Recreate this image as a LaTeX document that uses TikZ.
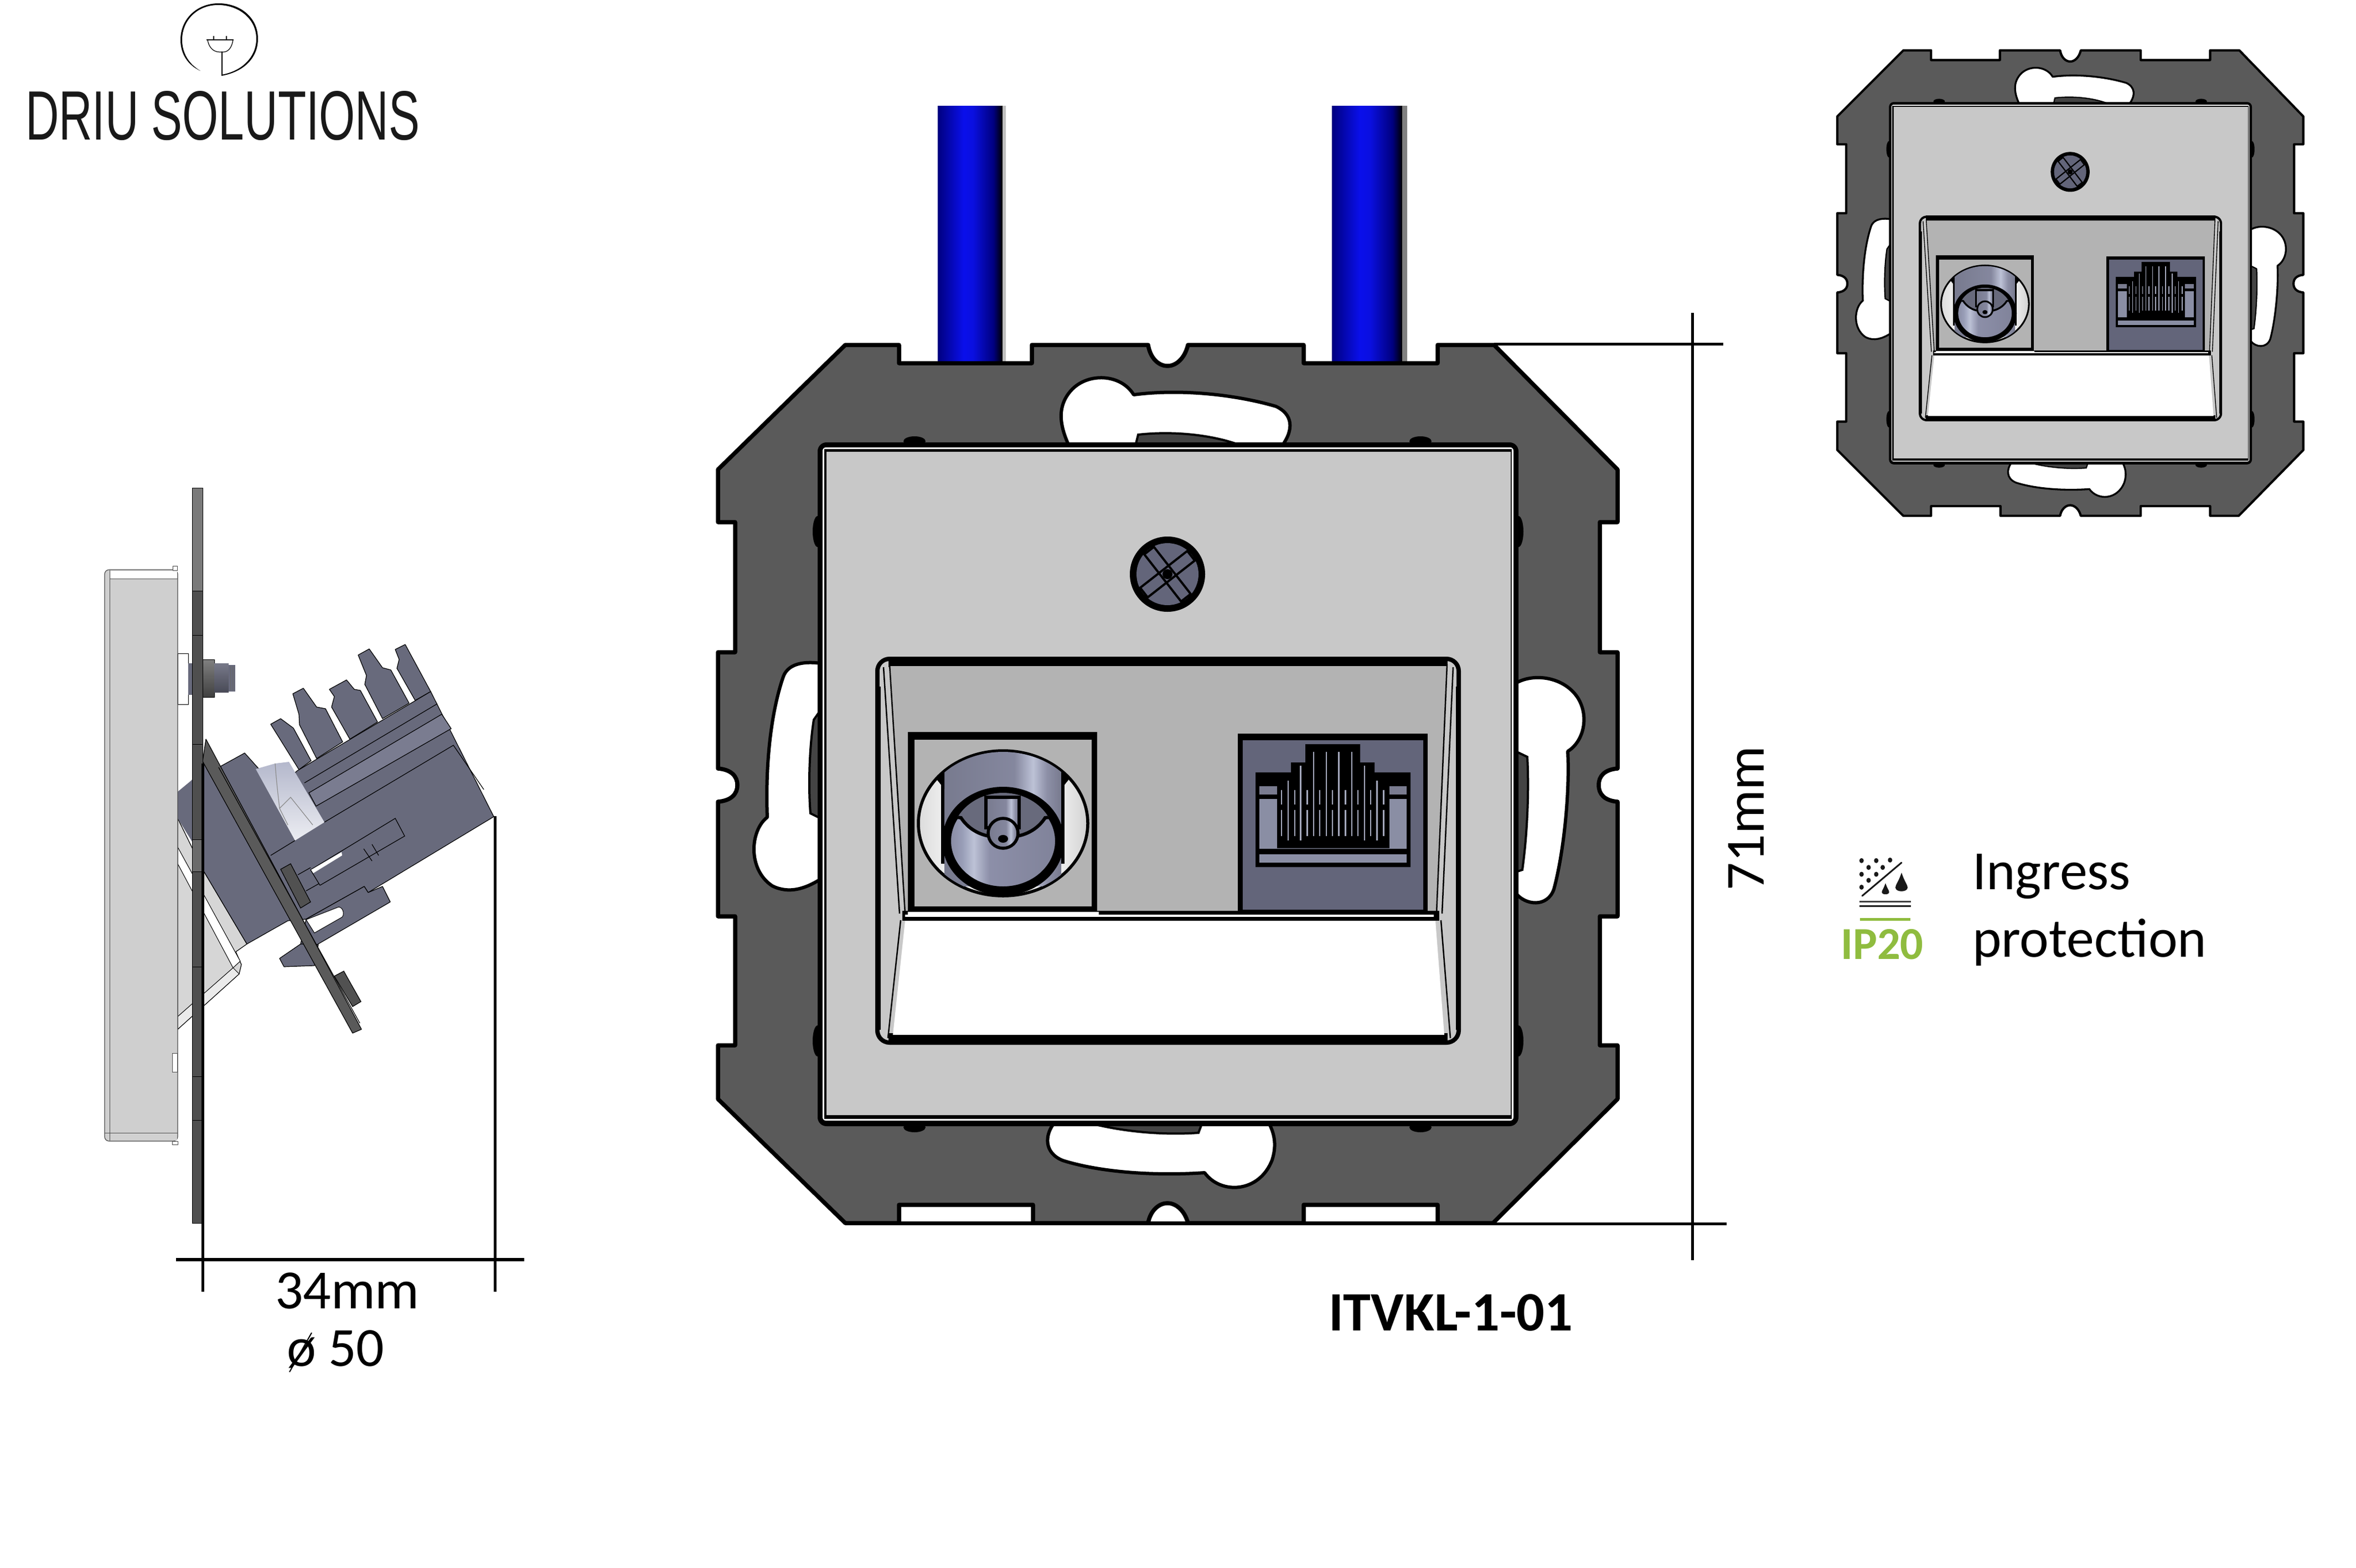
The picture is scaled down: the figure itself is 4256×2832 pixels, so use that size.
\documentclass[tikz,border=0pt]{standalone}
\usepackage{fontspec}
\usepackage{graphicx}
\setmainfont{Carlito}
\newfontfamily\logofont{Liberation Sans}
\definecolor{platecol}{HTML}{5A5A5A}
\definecolor{facecol}{HTML}{C8C8C8}
\definecolor{wellcol}{HTML}{B3B3B3}
\definecolor{steelcol}{HTML}{63657A}
\definecolor{bodycol}{HTML}{686A7C}
\definecolor{stripcol}{HTML}{7A7C90}
\definecolor{pincol}{HTML}{A4A8BC}
\definecolor{lightblue}{HTML}{8A8EA4}
\definecolor{ipgreen}{HTML}{8FBC3F}
\definecolor{sidecol}{HTML}{CFCFCF}
\definecolor{housecol}{HTML}{D6D6D6}
\definecolor{knobtop}{HTML}{B4B8CC}
\definecolor{knobbot}{HTML}{ECEDF2}
\pgfdeclarehorizontalshading{cableshade}{100bp}{rgb(0bp)=(0,0,.5); rgb(25bp)=(0,0,.5); rgb(45bp)=(.04,.06,.92); rgb(52bp)=(.04,.06,.88); rgb(68bp)=(0,0,.5); rgb(75bp)=(0,0,0); rgb(100bp)=(0,0,0)}
\pgfdeclarehorizontalshading{cylshade}{100bp}{rgb(0bp)=(.47,.48,.56); rgb(25bp)=(.47,.48,.56); rgb(55bp)=(.52,.53,.62); rgb(63bp)=(.74,.76,.84); rgb(69bp)=(.55,.56,.65); rgb(75bp)=(.47,.48,.56); rgb(100bp)=(.47,.48,.56)}
\pgfdeclarehorizontalshading{lensshade}{100bp}{rgb(0bp)=(.52,.53,.62); rgb(25bp)=(.52,.53,.62); rgb(32bp)=(.60,.62,.72); rgb(37bp)=(.74,.76,.84); rgb(44bp)=(.55,.56,.66); rgb(75bp)=(.50,.51,.60); rgb(100bp)=(.50,.51,.60)}
\pgfdeclarehorizontalshading{rimshade}{100bp}{rgb(0bp)=(.86,.86,.86); rgb(25bp)=(.86,.86,.86); rgb(34bp)=(.95,.95,.95); rgb(50bp)=(.9,.9,.9); rgb(66bp)=(.95,.95,.95); rgb(75bp)=(.82,.82,.82); rgb(100bp)=(.82,.82,.82)}
\tikzset{
  plate/.style={fill=platecol,draw=black,line width=\LW*.75mm,line join=round},
  slot/.style={fill=white,draw=black,line width=\LW*.6mm,line join=round},
  inset/.style={fill=platecol!75!black,draw=black,line width=\LW*.4mm},
  hair/.style={draw=black,line width=\LW*.25mm},
  sidepart/.style={fill=bodycol,draw=black,line width=.12mm,line join=round},
  sideline/.style={draw=black,line width=.12mm},
  dimline/.style={draw=black,line width=.5mm},
  label/.style={inner sep=0pt,outer sep=0pt,text=black,font=\fontsize{28.4pt}{30pt}\selectfont},
}
\newcommand{\devicedraw}[1]{%
  \def\LW{#1}%
  % plate
  \path[plate] (1527,623) -- (1624,623) -- (1624,656) -- (1864,656) -- (1864,623) -- (2074,623)
    .. controls (2078,648) and (2094,661) .. (2109,661) .. controls (2124,661) and (2140,648) .. (2146,623)
    -- (2355,623) -- (2355,656) -- (2597,656) -- (2597,623) -- (2699,623)
    -- (2922,848) -- (2922,943) -- (2890,943) -- (2890,1178) -- (2922,1178) -- (2922,1388)
    .. controls (2898,1390) and (2888,1402) .. (2888,1418) .. controls (2888,1434) and (2898,1446) .. (2922,1448)
    -- (2922,1655) -- (2890,1655) -- (2890,1888) -- (2922,1888) -- (2922,1985)
    -- (2697,2209) -- (2597,2209) -- (2597,2176) -- (2355,2176) -- (2355,2209) -- (2146,2209)
    .. controls (2140,2186) and (2124,2173) .. (2109,2173) .. controls (2094,2173) and (2078,2186) .. (2074,2209)
    -- (1866,2209) -- (1866,2176) -- (1624,2176) -- (1624,2209) -- (1527,2209)
    -- (1297,1985) -- (1297,1888) -- (1328,1888) -- (1328,1655) -- (1297,1655) -- (1297,1448)
    .. controls (1321,1446) and (1332,1434) .. (1332,1418) .. controls (1332,1402) and (1321,1390) .. (1297,1388)
    -- (1297,1178) -- (1328,1178) -- (1328,943) -- (1297,943) -- (1297,848) -- cycle;
  % slots
  \path[slot] (1931,805) .. controls (1915,770) and (1908,735) .. (1935,705) .. controls (1965,672) and (2025,675) .. (2048,713)
    .. controls (2130,702) and (2230,712) .. (2305,734) .. controls (2335,748) and (2338,775) .. (2316,805) -- cycle;
  \path[inset] (2051,805) -- (2056,785) .. controls (2120,778) and (2190,785) .. (2243,805) -- cycle;
  \path[slot] (1903,2030) .. controls (1888,2050) and (1885,2082) .. (1920,2096)
    .. controls (1990,2118) and (2090,2124) .. (2176,2118) .. controls (2205,2158) and (2275,2155) .. (2298,2095) .. controls (2306,2070) and (2303,2050) .. (2293,2030) -- cycle;
  \path[inset] (1975,2030) .. controls (2040,2046) and (2110,2050) .. (2165,2046) -- (2171,2030) -- cycle;
  \path[slot] (1482,1198) .. controls (1460,1195) and (1425,1195) .. (1415,1222) .. controls (1395,1280) and (1382,1370) .. (1386,1476)
    .. controls (1355,1500) and (1350,1570) .. (1395,1600) .. controls (1425,1615) and (1455,1605) .. (1482,1588) -- cycle;
  \path[inset] (1482,1283) -- (1470,1300) .. controls (1462,1350) and (1460,1420) .. (1464,1469) -- (1482,1478) -- cycle;
  \path[slot] (2738,1234) .. controls (2770,1215) and (2825,1222) .. (2850,1260) .. controls (2872,1295) and (2860,1340) .. (2832,1357)
    .. controls (2836,1430) and (2825,1540) .. (2807,1606) .. controls (2795,1640) and (2755,1635) .. (2738,1613) -- cycle;
  \path[inset] (2738,1357) -- (2759,1367) .. controls (2762,1420) and (2760,1500) .. (2750,1571) -- (2738,1575) -- cycle;
  % bumps
  \foreach \bx/\by in {1652/797,2566/797,1652/2036,2566/2036}{\fill[black] (\bx,\by) ellipse [x radius=20,y radius=9];}
  \foreach \bx/\by in {1477/960,2743/960,1477/1880,2743/1880}{\fill[black] (\bx,\by) ellipse [x radius=9,y radius=28];}
  % cover
  \fill[black,rounded corners=\LW*1.6mm] (1477,799) rectangle (2743,2034);
  \fill[white,rounded corners=\LW*.6mm] (1486,808) rectangle (2734,2024);
  \fill[black] (1489,811) rectangle (2731,2021);
  \fill[facecol] (1493,816) rectangle (2729,2014);
  % opening
  \fill[black,rounded corners=\LW*2.6mm] (1581,1186) rectangle (2639,1887);
  \fill[facecol,rounded corners=\LW*1.8mm] (1589,1194) rectangle (2631,1879);
  \fill[black] (1605,1186) rectangle (2615,1205);
  \fill[black] (1605,1866) rectangle (2615,1887);
  \fill[wellcol] (1607,1203) -- (2614,1203) -- (2595,1648) -- (1635,1648) -- cycle;
  \draw[hair] (1607,1200) -- (1635,1650) (2614,1200) -- (2595,1650);
  \draw[hair] (1596,1205) -- (1625,1650) (2625,1205) -- (2605,1650);
  \draw[hair] (1590,1240) -- (1590,1860) (2631,1240) -- (2631,1860);
  \draw[hair] (1627,1662) -- (1604,1875) (2603,1662) -- (2620,1875);
  % TV jack
  \fill[black] (1640,1322) rectangle (1982,1650);
  \fill[wellcol] (1652,1336) rectangle (1972,1637);
  \path[shading=rimshade,draw=black,line width=\LW*.55mm] (1812,1487) ellipse [x radius=153,y radius=131];
  \begin{scope}
    \clip (1812,1487) ellipse [x radius=151,y radius=129];
    \path[shading=cylshade] (1706,1340) rectangle (1917,1600);
    \fill[black] (1700,1400) -- (1706,1400) -- (1706,1560) -- (1700,1560) -- cycle;
    \fill[black] (1917,1400) -- (1923,1400) -- (1923,1560) -- (1917,1560) -- cycle;
    \fill[black] (1690,1405) -- (1706,1425) -- (1706,1390) -- cycle;
    \fill[black] (1933,1405) -- (1917,1425) -- (1917,1390) -- cycle;
  \end{scope}
  \path[shading=lensshade,draw=black,line width=\LW*1.6mm] (1812,1519) ellipse [x radius=102,y radius=90];
  \begin{scope}
    \clip (1812,1515) ellipse [x radius=93,y radius=83];
    \path[fill=bodycol,draw=black,line width=\LW*.6mm] (1700,1420) -- (1925,1420) -- (1925,1472) -- (1888,1477)
      .. controls (1875,1497) and (1855,1507) .. (1838,1510) -- (1786,1510)
      .. controls (1769,1507) and (1749,1497) .. (1736,1477) -- (1700,1472) -- cycle;
  \end{scope}
  \path[shading=cylshade,draw=black,line width=\LW*.6mm] (1781,1440) rectangle (1841,1495);
  \path[shading=cylshade,draw=black,line width=\LW*.55mm] (1812,1505) ellipse [x radius=27,y radius=27];
  \fill[black] (1812,1515) ellipse [x radius=9,y radius=7];
  % bar under jacks
  \fill[black] (1630,1645) rectangle (2600,1663);
  \fill[white] (1635,1652) rectangle (2590,1656);
  \fill[white] (1640,1647) rectangle (1985,1655);
  % white tray
  \fill[white] (1635,1663) -- (2593,1663) -- (2609,1869) -- (1613,1869) -- cycle;
  % RJ45
  \fill[black] (2236,1325) rectangle (2579,1648);
  \fill[steelcol] (2245,1337) rectangle (2571,1643);
  \fill[black] (2268,1395) -- (2332,1395) -- (2332,1377) -- (2358,1377) -- (2358,1344) -- (2457,1344) -- (2457,1377) -- (2483,1377) -- (2483,1395) -- (2548,1395) -- (2548,1566) -- (2268,1566) -- cycle;
  \fill[stripcol] (2275,1420) rectangle (2541,1435);
  \fill[lightblue] (2275,1443) rectangle (2541,1533);
  \fill[lightblue] (2275,1543) rectangle (2541,1558);
  \fill[black] (2307,1417) rectangle (2510,1532);
  \fill[black] (2332,1377) rectangle (2483,1420);
  \begin{scope}[draw=pincol,line width=\LW*.25mm]
    \foreach \px/\pa/\pb in {2327/1410/1518,2349.5/1383/1518,2373/1358/1510,2396/1358/1510,2418.5/1358/1510,2442/1358/1510,2465/1383/1518,2487.5/1410/1518}{\draw (\px,\pa) -- (\px,\pb);}
    \foreach \px in {2315,2339,2361.5,2384,2407,2430.5,2453,2476,2499.5}{\draw (\px,1427) -- (\px,1453) (\px,1463) -- (\px,1510);}
  \end{scope}
  \fill[black] (1985,1647) rectangle (2600,1652);
  % screw
  \fill[black] (2109,1037) circle [radius=68];
  \fill[steelcol] (2109,1037) circle [radius=56];
  \begin{scope}[shift={(2109,1037)},rotate=38]
    \draw[hair,line width=\LW*.4mm] (-54,-11) rectangle (54,11);
  \end{scope}
  \begin{scope}[shift={(2109,1037)},rotate=-52]
    \draw[hair,line width=\LW*.4mm] (-54,-11) rectangle (54,11);
  \end{scope}
  \fill[black] (2109,1037) circle [radius=9];
}
\newcommand{\dropshape}[4]{\fill[#4] (#1,#2) .. controls (#1-#3*.3,#2+#3*.9) and (#1-#3*.55,#2+#3*1.1) .. (#1-#3*.55,#2+#3*1.35) .. controls (#1-#3*.55,#2+#3*1.8) and (#1+#3*.55,#2+#3*1.8) .. (#1+#3*.55,#2+#3*1.35) .. controls (#1+#3*.55,#2+#3*1.1) and (#1+#3*.3,#2+#3*.9) .. (#1,#2) -- cycle;}
\begin{document}
\begin{tikzpicture}[x=0.1mm,y=-0.1mm]
\useasboundingbox (0,0) rectangle (4256,2832);
\fill[white] (0,0) rectangle (4256,2832);

% ---------- logo
\fill[black] (400,137) .. controls (440,130) and (466,105) .. (466,70) .. controls (466,30) and (432,6) .. (395,6)
  .. controls (355,6) and (326,35) .. (326,72) .. controls (326,98) and (340,118) .. (362,128)
  .. controls (342,116) and (329,97) .. (329,72) .. controls (329,36) and (357,9) .. (394,9)
  .. controls (430,9) and (463,33) .. (463,70) .. controls (463,104) and (436,129) .. (400,135) -- cycle;
\draw[black,line width=.16mm] (401,136) -- (401,93);
\draw[black,line width=.14mm] (373,72) -- (422,72);
\draw[black,line width=.12mm] (375,72) .. controls (377,85) and (385,94) .. (397,94) -- (403,94) .. controls (413,94) and (419,85) .. (421,72);
\draw[black,line width=.22mm] (386,72) -- (386,65) (409,72) -- (409,65);
\node[anchor=south west,inner sep=0pt,outer sep=0pt,text=black!90] (logotext) at (46,254) {\resizebox{71.2mm}{8.8mm}{\logofont DRIU SOLUTIONS}};

% ---------- main device
\path[shading=cableshade] (1694,191) rectangle (1811,655);
\fill[black!25] (1811,191) rectangle (1817,655);
\path[shading=cableshade] (2406,191) rectangle (2533,655);
\fill[black!50] (2533,191) rectangle (2542,655);
\devicedraw{1}
\draw[black,line width=.7mm] (1527,2209) -- (2697,2209);

% ---------- small device
\begin{scope}[shift={(3319,91)},xscale=.518,yscale=.53,shift={(-1297,-623)}]
  \devicedraw{.55}
\end{scope}

% ---------- side view
\path[fill=housecol,draw=black,line width=.12mm,line join=round] (321,1478) -- (366,1570) -- (446,1705) -- (426,1719) -- (436,1742) -- (432,1759) -- (321,1859) -- cycle;
\path[fill=white,draw=black,line width=.1mm] (321,1530) -- (434,1736) -- (421,1748) -- (321,1560) -- cycle;
\path[fill=black!8,draw=black,line width=.1mm] (321,1836) -- (421,1748) -- (432,1759) -- (321,1859) -- cycle;
\path[sidepart,draw=none] (321,1430) -- (344,1411) -- (347,1408) -- (347,1520) -- (321,1478) -- cycle;
% fins
\path[sidepart] (489,1308) -- (507,1298) -- (530,1315) -- (562,1374) -- (540,1390) -- cycle;
\path[sidepart] (529,1253) -- (548,1243) -- (572,1277) -- (588,1280) -- (619,1340) -- (572,1370) -- (541,1309) -- (540,1290) -- cycle;
\path[sidepart] (595,1245) -- (626,1228) -- (640,1245) -- (651,1247) -- (682,1304) -- (632,1335) -- (599,1277) -- (604,1258) -- cycle;
\path[sidepart] (647,1183) -- (667,1172) -- (691,1206) -- (706,1210) -- (739,1270) -- (691,1298) -- (659,1236) -- (662,1220) -- cycle;
\path[sidepart] (714,1173) -- (732,1164) -- (778,1249) -- (750,1265) -- (717,1207) -- (721,1191) -- cycle;
% body
\path[sidepart] (366,1379) -- (395,1386) -- (442,1360) -- (500,1425) -- (537,1392) -- (778,1249) -- (892,1475)
  -- (665,1612) -- (658,1601) -- (553,1660) -- (520,1663) -- (446,1705) -- (366,1570) -- cycle;
\path[sidepart] (658,1601) -- (665,1612) -- (691,1601) -- (705,1629) -- (573,1706) -- (543,1705) -- (553,1660) -- cycle;
\path[sidepart] (543,1705) -- (505,1731) -- (513,1746) -- (568,1744) -- (575,1706) -- cycle;
\path[fill=white,draw=black,line width=.1mm] (553,1661) -- (612,1638) .. controls (622,1640) and (622,1655) .. (617,1657) -- (568,1685) -- cycle;
\path[fill=stripcol,draw=black,line width=.12mm] (558,1432) -- (798,1290) -- (815,1316) -- (571,1456) -- cycle;
\draw[sideline] (550,1414) -- (790,1271) (586,1485) -- (819,1346) -- (874,1426) (489,1545) -- (533,1518);
\draw[sideline] (561,1571) -- (714,1478) -- (731,1510) -- (578,1599) (561,1571) -- (578,1599) (538,1580) -- (561,1567) (553,1609) -- (576,1596);
\path[fill=white,draw=none] (562,1571) -- (617,1539) -- (618,1545) -- (566,1577) -- cycle;
\draw[sideline] (657,1533) -- (672,1555) (672,1525) -- (684,1545);
\path[top color=knobtop,bottom color=knobbot,draw=none] (462,1389) -- (497,1379) -- (522,1376) -- (586,1485) -- (533,1518) -- cycle;
\draw[black!45,line width=.12mm] (497,1379) .. controls (500,1420) and (503,1440) .. (505,1460) -- (520,1490) (505,1460) -- (525,1440) -- (565,1490);
% angled plate
\path[fill=platecol,draw=black,line width=.12mm,line join=round] (366,1375) -- (372,1335) -- (653,1859) -- (637,1866) -- cycle;
\draw[sideline] (395,1386) -- (650,1848);
\path[fill=platecol!90!black,draw=black,line width=.12mm] (507,1570) -- (525,1560) -- (561,1629) -- (543,1640) -- cycle;
\path[fill=platecol!90!black,draw=black,line width=.12mm] (604,1763) -- (621,1754) -- (652,1809) -- (637,1818) -- cycle;
% spacer and bolt
\path[fill=white,draw=black,line width=.1mm] (321,1180) rectangle (340,1272);
\path[fill=white,draw=black,line width=.1mm] (311,1154) rectangle (320,1187);
\fill[bodycol] (340,1198) rectangle (347,1255);
\path[top color=black!50,bottom color=black!75,draw=black,line width=.1mm] (366,1191) rectangle (387,1259);
\path[top color=bodycol!90,bottom color=bodycol!70!black] (387,1198) rectangle (413,1250);
\path[fill=bodycol] (413,1201) rectangle (425,1249);
\foreach \tx in {416,419,422}{\draw[black!60,line width=.05mm] (\tx,1203) -- (\tx,1247);}
% cover
\path[fill=sidecol,draw=black!70,line width=.12mm,rounded corners=.8mm] (189,1029) rectangle (321,2061);
\path[fill=white,draw=black!70,line width=.1mm] (312,1022) rectangle (320,1030);
\path[fill=white,draw=black!70,line width=.1mm] (311,2061) rectangle (321,2067);
\fill[white] (199,1031) rectangle (320,1045);
\fill[black!18] (199,2047) rectangle (320,2060);
\draw[black!70,line width=.1mm] (198.5,1030) -- (198.5,2060) (199,1045) -- (321,1045) (189,2046) -- (321,2046);
\path[fill=white,draw=black!70,line width=.1mm] (311,1902) rectangle (320,1936);
% vertical plate
\fill[black!52] (347,881) rectangle (366,1067);
\fill[platecol!88!black] (347,1067) rectangle (366,1516);
\fill[black!58] (347,1516) rectangle (366,1574);
\fill[platecol!88!black] (347,1574) rectangle (365,2209);
\draw[black,line width=.1mm] (347,881) rectangle (366,2209);
\foreach \sy in {1067,1147,1344,1516,1574,1746,1944,2023}{\draw[black,line width=.1mm] (347,\sy) -- (366,\sy);}

% ---------- side dimensions
\coordinate (dimA) at (366,1379);
\coordinate (dimB) at (894,1474);
\coordinate (dimC) at (318,2275);
\coordinate (dimD) at (947,2275);
\draw[dimline] (dimA) -- (366,2333);
\draw[dimline] (dimB) -- (894,2333);
\draw[dimline,line width=.6mm] (dimC) -- (dimD);
\node[label,anchor=base west] (depth) at (497,2363) {34mm};
\node[label,anchor=base west] (dia) at (518,2467) {ø 50};
\draw[black,line width=.2mm] (523,2478) -- (563,2407);

% ---------- main dimensions
\coordinate (hTop) at (2699,621);
\coordinate (hBot) at (2697,2210);
\draw[dimline] (hTop) -- (3113,621);
\draw[dimline] (hBot) -- (3119,2210);
\draw[dimline] (3057,565) -- (3057,2276);
\node[label,anchor=base west,rotate=90] (height) at (3186,1608) {71mm};
\node[label,anchor=base west,font=\fontsize{28.6pt}{30pt}\selectfont\bfseries] (partno) at (2400,2403) {ITVKL-1-01};

% ---------- IP icon
\foreach \ux/\uy in {123/163,175/163,224/160,148/200,198/200,123/237,175/237,148/270,123/307}{
  \fill[black!90] (3300+\ux/1.96,1500+\uy/3) ellipse [x radius=4,y radius=4.5];
}
\draw[black!90,line width=.3mm,line cap=round] (3364,1618) -- (3435,1558);
\dropshape{3435}{1576}{20}{black!90}
\dropshape{3406}{1595}{12}{black!90}
\draw[black!75,line width=.3mm] (3359,1628.5) -- (3452,1628.5);
\draw[black!90,line width=.3mm] (3359,1636) -- (3452,1636);
\fill[ipgreen] (3360,1658) rectangle (3451,1663);
\node[label,anchor=base west,text=ipgreen,font=\fontsize{23.5pt}{25pt}\selectfont\bfseries] (ipcode) at (3325,1732) {IP20};
\node[label,anchor=base west] (ingress) at (3563,1606) {Ingress};
\node[label,anchor=base west] (protect) at (3563,1728) {protection};
\end{tikzpicture}
\end{document}
